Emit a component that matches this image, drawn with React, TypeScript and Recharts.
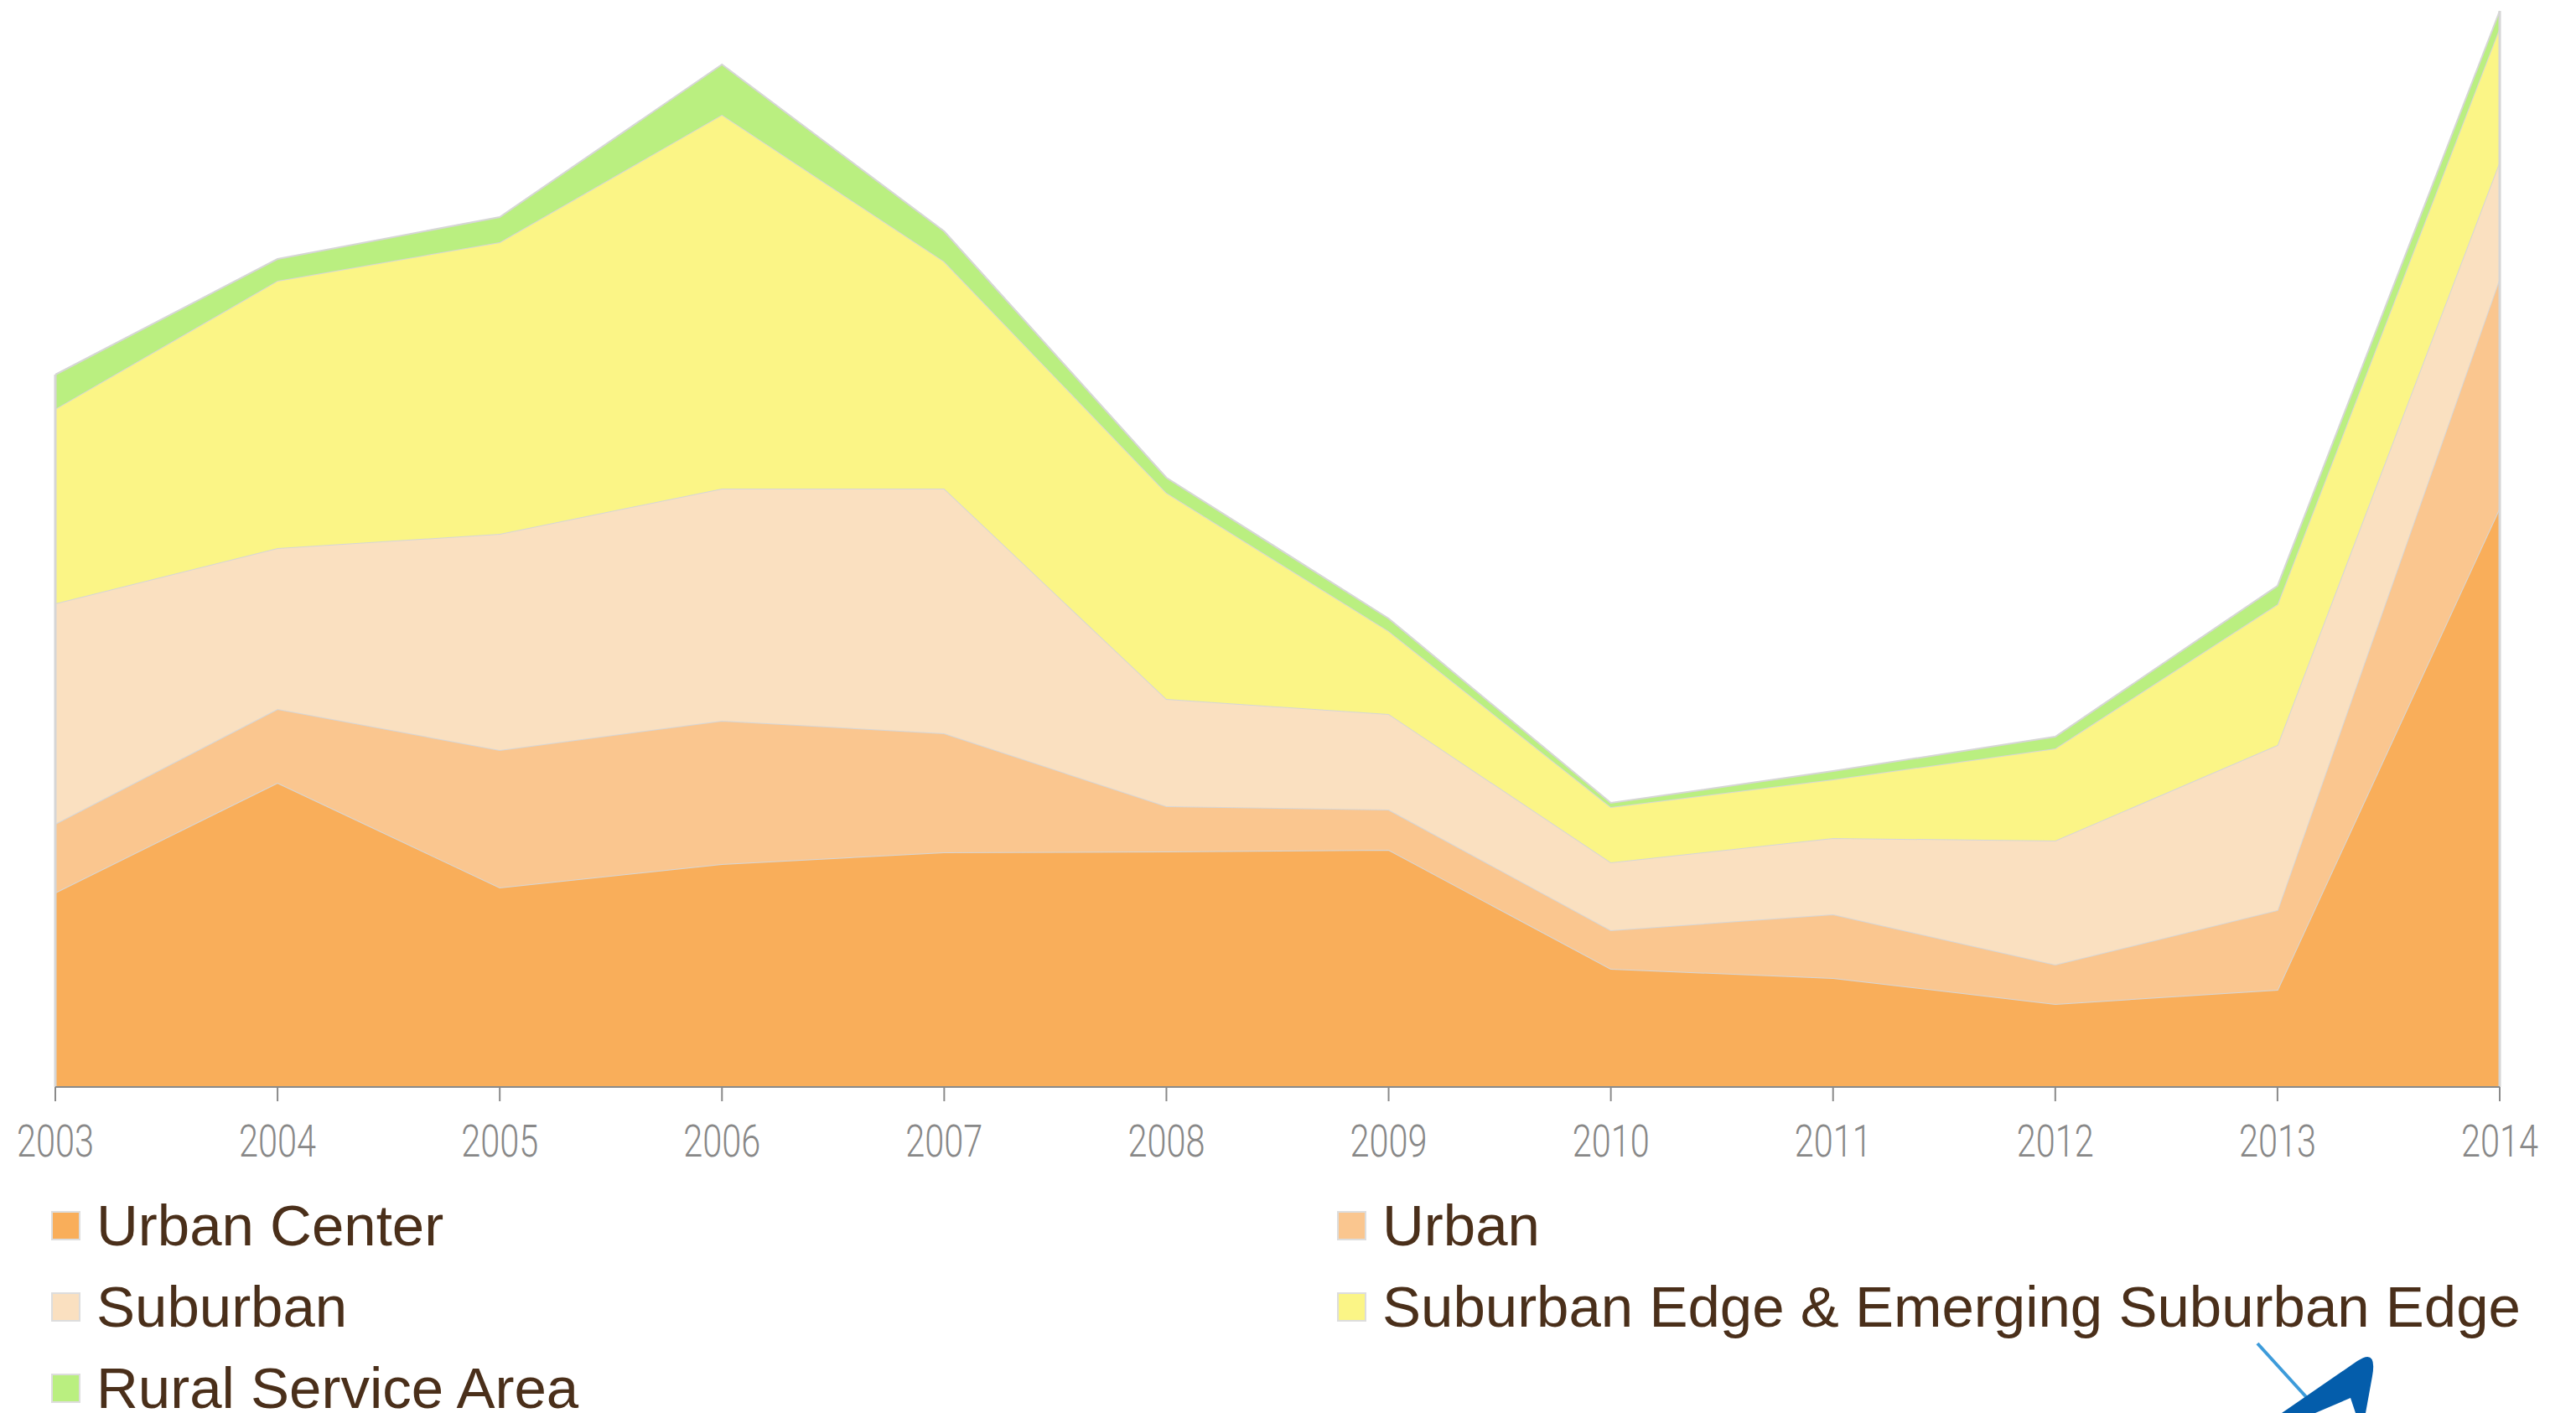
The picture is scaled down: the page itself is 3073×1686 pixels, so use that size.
import React from 'react';
import { AreaChart, Area, XAxis, YAxis, ReferenceLine } from 'recharts';

const years = ['2003', '2004', '2005', '2006', '2007', '2008', '2009', '2010', '2011', '2012', '2013', '2014'];
const urbanCenter = [232, 363, 238, 266, 280, 281, 283, 141, 130, 99, 116, 691];
const urban = [82, 88, 164, 171, 142, 54, 48, 46, 76, 47, 95, 274];
const suburban = [263, 192, 258, 277, 292, 128, 114, 81, 91, 148, 197, 139];
const suburbanEdge = [232, 319, 348, 446, 271, 246, 99, 66, 70, 110, 168, 160];
const rural = [41, 26, 30, 60, 36, 18, 15, 5, 10, 14, 22, 20];

const seriesNames = ['Urban Center', 'Urban', 'Suburban', 'Suburban Edge & Emerging Suburban Edge', 'Rural Service Area'];
const seriesKeys = ['urbanCenter', 'urban', 'suburban', 'suburbanEdge', 'rural'];
const seriesColors = ['#F9AE5A', '#FAC68F', '#FAE0C0', '#FBF586', '#BAEF80'];

const data = years.map((y, i) => ({
  year: y,
  urbanCenter: urbanCenter[i],
  urban: urban[i],
  suburban: suburban[i],
  suburbanEdge: suburbanEdge[i],
  rural: rural[i],
}));

const totals = years.map((_, i) => urbanCenter[i] + urban[i] + suburban[i] + suburbanEdge[i] + rural[i]);

// legend layout: [left, top] per item
const legendPos = [
  [61, 1445],
  [1595, 1445],
  [61, 1542],
  [1595, 1542],
  [61, 1639],
];

const YearTick = (props: any) => {
  const { x, y, payload } = props;
  return (
    <text
      x={x}
      y={y}
      dy="0.71em"
      textAnchor="middle"
      fill="#888888"
      fontSize={53}
      fontWeight={300}
      fontFamily='Roboto, "DejaVu Sans Condensed", sans-serif'
      textLength={92}
      lengthAdjust="spacingAndGlyphs"
    >
      {payload.value}
    </text>
  );
};

export default function App() {
  return (
    <div style={{ position: 'absolute', left: 0, top: 0, width: 3073, height: 1686, background: '#fff', overflow: 'hidden' }}>
      <AreaChart
        width={3073}
        height={1400}
        data={data}
        margin={{ top: 7, right: 91, left: 66, bottom: 3 }}
      >
        <XAxis
          dataKey="year"
          height={100}
          tickSize={17}
          tickMargin={28}
          axisLine={{ stroke: '#8a8a8a', strokeWidth: 2 }}
          tickLine={{ stroke: '#8a8a8a', strokeWidth: 2 }}
          tick={<YearTick />}
          interval={0}
        />
        <YAxis hide domain={[0, 1290]} />
        {seriesKeys.map((k, i) => (
          <Area
            key={k}
            type="linear"
            dataKey={k}
            name={seriesNames[i]}
            stackId="1"
            fill={seriesColors[i]}
            fillOpacity={1}
            stroke="#D6D6D6"
            strokeWidth={2}
            isAnimationActive={false}
            dot={false}
            activeDot={false}
          />
        ))}
        <ReferenceLine
          segment={[{ x: years[0], y: 0 }, { x: years[0], y: totals[0] }]}
          stroke="#D6D6D6"
          strokeWidth={3}
        />
        <ReferenceLine
          segment={[{ x: years[years.length - 1], y: 0 }, { x: years[years.length - 1], y: totals[totals.length - 1] }]}
          stroke="#D6D6D6"
          strokeWidth={3}
        />
      </AreaChart>
      {seriesNames.map((name, i) => (
        <div
          key={name}
          style={{
            position: 'absolute',
            left: legendPos[i][0],
            top: legendPos[i][1],
            height: 35,
            display: 'flex',
            alignItems: 'center',
            whiteSpace: 'nowrap',
          }}
        >
          <div
            style={{
              width: 31,
              height: 31,
              background: seriesColors[i],
              border: '2px solid #DDDDDD',
              marginRight: 19,
            }}
          />
          <span
            style={{
              fontFamily: '"Liberation Sans", Arial, sans-serif',
              fontSize: 69,
              lineHeight: 1,
              color: '#4A2F1A',
            }}
          >
            {name}
          </span>
        </div>
      ))}
      <svg style={{ position: 'absolute', left: 0, top: 0 }} width={3073} height={1686}>
        <line x1={2693} y1={1603} x2={2754} y2={1670} stroke="#3D9BDA" strokeWidth={4} />
        <path d="M2722,1686 L2812,1624 Q2836,1608 2830,1642 L2822,1686 L2810,1686 L2804,1668 L2762,1686 Z" fill="#045DAB" />
      </svg>
    </div>
  );
}
